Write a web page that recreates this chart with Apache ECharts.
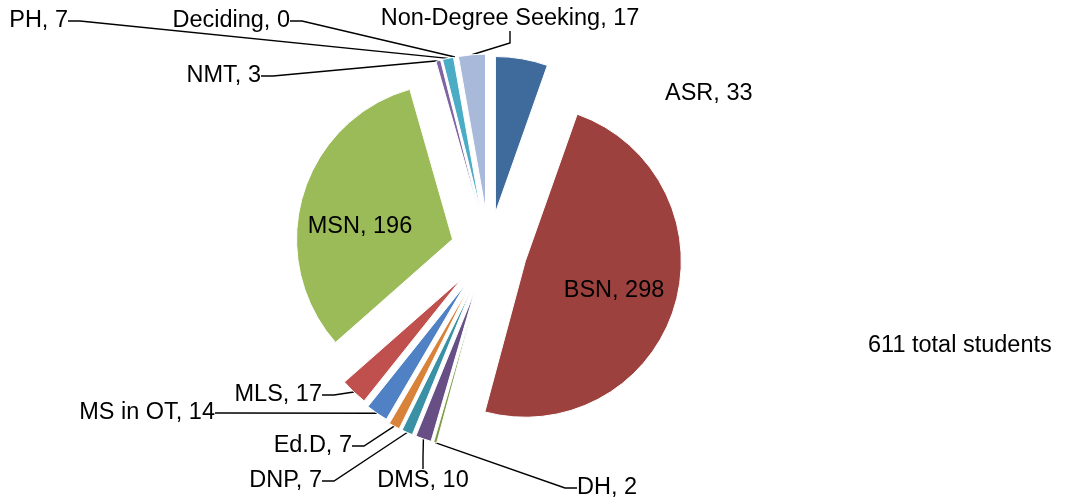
<!DOCTYPE html>
<html>
<head>
<meta charset="utf-8">
<title>Students by program</title>
<script src="https://cdn.jsdelivr.net/npm/echarts@6/dist/echarts.min.js"></script>
<style>
  html, body { margin: 0; padding: 0; background: #fff; }
  #chart { width: 1091px; height: 502px; }
</style>
</head>
<body>
<div id="chart"></div>
<script>
// data, clockwise from 12 o'clock
const programs = ['ASR', 'BSN', 'DH', 'DMS', 'DNP', 'Ed.D', 'MS in OT', 'MLS', 'MSN', 'NMT', 'PH', 'Deciding', 'Non-Degree Seeking'];
const students = [33, 298, 2, 10, 7, 7, 14, 17, 196, 3, 7, 0, 17];

// look
const sliceColors = ['#3F6A9C', '#9C413E', '#7F9B48', '#674F86', '#3A90A5', '#D9823A',
  '#4F81C4', '#C0504D', '#9BBB59', '#8064A2', '#4BACC6', '#F79646', '#A9B9D9'];
const explode = [38, 38, 44, 44, 44, 44, 42, 40, 38, 40, 40, 40, 40];
const labelPos = ['outside', 'inside', 'outside', 'outside', 'outside', 'outside', 'outside',
  'outside', 'inside', 'outside', 'outside', 'outside', 'outside'];
const hasLeader = [false, false, true, true, true, true, true, true, false, true, true, true, true];
// where each label sits (anchor x, y and which side the anchor is)
const labelX = [665, 614, 577, 423, 322, 352, 215, 322, 360, 261, 68, 290, 510];
const labelY = [94, 291, 488, 481, 481, 446, 413, 395, 227, 76, 21, 21, 19];
const labelAlign = ['left', 'center', 'left', 'center', 'right', 'right', 'right', 'right',
  'center', 'right', 'right', 'right', 'center'];

const FONT = "'Liberation Sans', Arial, sans-serif";
const CX = 489, CY = 250, R = 156;
const total = students.reduce((a, b) => a + b, 0);

const chart = echarts.init(document.getElementById('chart'));

// one series per slice; the slice is pushed out by moving its series centre
// along the slice's middle angle (clockwise from 12 o'clock)
let before = 0;
const series = programs.map((name, i) => {
  const mid = (before + students[i] / 2) / total * Math.PI * 2;
  before += students[i];
  return {
    type: 'pie',
    center: [CX + explode[i] * Math.sin(mid), CY - explode[i] * Math.cos(mid)],
    radius: R,
    startAngle: 90,
    clockwise: true,
    avoidLabelOverlap: false,
    selectedMode: false,
    silent: true,
    animation: false,
    emphasis: { disabled: true },
    label: {
      position: labelPos[i],
      formatter: '{b}, {c}',
      color: '#000',
      fontFamily: FONT,
      fontSize: 23.5,
      overflow: 'none'
    },
    labelLine: {
      length: 15,
      length2: 12,
      lineStyle: { color: '#000', width: 1.4 }
    },
    labelLayout: {
      x: labelX[i],
      y: labelY[i],
      align: labelAlign[i],
      verticalAlign: 'middle'
    },
    data: programs.map((n, j) => ({
      name: n,
      value: students[j],
      itemStyle: j === i
        ? { color: sliceColors[j], borderColor: '#fff', borderWidth: 1 }
        : { color: 'rgba(0,0,0,0)', borderWidth: 0 },
      label: { show: j === i },
      labelLine: { show: j === i && hasLeader[j] }
    }))
  };
});

const option = {
  backgroundColor: '#fff',
  animation: false,
  graphic: [{
    type: 'text',
    left: 868,
    top: 334,
    style: {
      text: total + ' total students',
      fill: '#000',
      font: '23.5px ' + FONT
    }
  }],
  series: series
};

chart.setOption(option);
</script>
</body>
</html>
